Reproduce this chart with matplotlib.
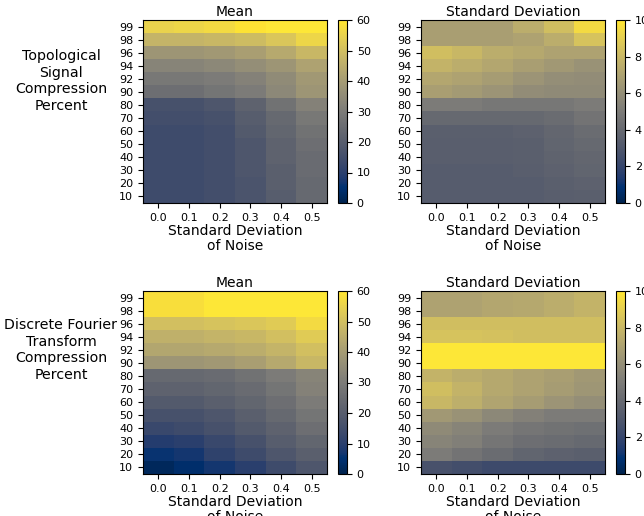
import numpy as np
import matplotlib
matplotlib.use("Agg")
import matplotlib.pyplot as plt

compression = [10, 20, 30, 40, 50, 60, 70, 80, 90, 92, 94, 96, 98, 99]
noise = [0.0, 0.1, 0.2, 0.3, 0.4, 0.5]

# rows listed from compression 99 (top) down to 10 (bottom)
topo_mean = [
    [55, 56, 57, 59, 60, 60],
    [47, 47, 48, 49, 52, 56],
    [38, 38, 39, 41, 44, 48],
    [33, 33, 34, 36, 38, 42],
    [29, 29, 30, 32, 35, 39],
    [26, 26, 28, 30, 34, 38],
    [16, 16, 18, 22, 27, 32],
    [15, 15, 16, 20, 24, 29],
    [14, 14, 15, 19, 23, 27],
    [14, 14, 15, 18, 22, 26],
    [14, 14, 15, 18, 22, 25],
    [14, 14, 15, 18, 21, 25],
    [14, 14, 15, 17, 21, 24],
    [14, 14, 15, 17, 20, 24],
]
topo_std = [
    [6.8, 6.8, 6.8, 7.5, 8.3, 9.5],
    [6.8, 6.8, 6.8, 7.0, 7.5, 8.5],
    [8.3, 8.0, 7.5, 7.3, 7.0, 7.0],
    [7.8, 7.5, 7.2, 6.8, 6.5, 6.2],
    [7.2, 7.0, 6.7, 6.3, 6.0, 5.9],
    [6.8, 6.6, 6.3, 5.9, 5.8, 5.8],
    [5.0, 5.0, 4.8, 4.8, 4.8, 5.0],
    [4.0, 4.0, 4.0, 4.0, 4.2, 4.6],
    [3.5, 3.5, 3.5, 3.6, 3.9, 4.2],
    [3.4, 3.4, 3.4, 3.5, 3.8, 4.0],
    [3.4, 3.4, 3.4, 3.5, 3.7, 3.9],
    [3.3, 3.3, 3.3, 3.4, 3.6, 3.8],
    [3.3, 3.3, 3.3, 3.3, 3.5, 3.6],
    [3.3, 3.3, 3.3, 3.3, 3.4, 3.5],
]
dft_mean = [
    [58, 58, 60, 60, 60, 60],
    [58, 58, 60, 60, 60, 60],
    [50, 50, 51, 52, 53, 57],
    [46, 46, 47, 48, 50, 53],
    [43, 43, 44, 45, 47, 50],
    [38, 38, 39, 41, 44, 48],
    [24, 24, 25, 27, 30, 33],
    [22, 22, 23, 25, 28, 32],
    [19, 19, 21, 23, 26, 30],
    [16, 16, 18, 21, 24, 28],
    [13, 14, 16, 19, 22, 26],
    [9, 10, 13, 16, 20, 23],
    [6, 7, 11, 14, 18, 21],
    [2, 4, 7, 10, 14, 18],
]
dft_std = [
    [7.0, 7.0, 7.2, 7.3, 7.5, 7.8],
    [7.0, 7.0, 7.2, 7.3, 7.5, 7.8],
    [8.3, 8.3, 8.3, 8.3, 8.3, 8.3],
    [8.5, 8.5, 8.4, 8.3, 8.3, 8.3],
    [10, 10, 10, 10, 10, 10],
    [10, 10, 10, 10, 10, 10],
    [7.8, 7.5, 7.3, 7.0, 6.8, 6.5],
    [8.3, 7.8, 7.3, 7.0, 6.7, 6.4],
    [8.0, 7.6, 7.1, 6.7, 6.3, 6.0],
    [6.5, 6.2, 5.7, 5.3, 5.0, 5.0],
    [5.8, 5.5, 5.0, 4.7, 4.5, 4.4],
    [5.5, 5.2, 4.7, 4.3, 4.2, 4.0],
    [5.0, 4.6, 4.2, 3.8, 3.6, 3.5],
    [2.7, 2.5, 2.3, 2.3, 2.3, 2.3],
]

row_labels = ["Topological\nSignal\nCompression\nPercent",
              "Discrete Fourier\nTransform\nCompression\nPercent"]

fig = plt.figure(figsize=(6.44, 5.16), dpi=100)

panels = [
    (topo_mean, 60, "Mean"), (topo_std, 10, "Standard Deviation"),
    (dft_mean, 60, "Mean"), (dft_std, 10, "Standard Deviation"),
]
W, H = 644, 516
lefts = [143, 421]
tops = [20, 291]
aw, ah = 184, 183
label_centers = [(61, 81), (61, 350)]
for i, (data, vmax, title) in enumerate(panels):
    r, c = divmod(i, 2)
    ax = fig.add_axes([lefts[c] / W, 1 - (tops[r] + ah) / H, aw / W, ah / H])
    cax = fig.add_axes([(lefts[c] + 195) / W, 1 - (tops[r] + ah) / H, 9 / W, ah / H])
    arr = np.array(data, dtype=float)
    im = ax.imshow(arr, cmap="cividis", vmin=0, vmax=vmax, aspect="auto")
    ax.set_xticks(range(len(noise)))
    ax.set_xticklabels([f"{v:.1f}" for v in noise], fontsize=8)
    ax.set_yticks(range(len(compression)))
    ax.set_yticklabels([str(v) for v in compression[::-1]], fontsize=8)
    ax.set_title(title, fontsize=10, pad=3)
    ax.set_xlabel("Standard Deviation\nof Noise", fontsize=10, labelpad=1, linespacing=1.05)
    cb = fig.colorbar(im, cax=cax)
    cb.ax.tick_params(labelsize=8)
    if c == 0:
        x0, y0 = label_centers[r]
        fig.text(x0 / W, 1 - y0 / H, row_labels[r], fontsize=10.2, ha="center",
                 va="center", linespacing=1.22)

fig.savefig("out.png", dpi=100)
